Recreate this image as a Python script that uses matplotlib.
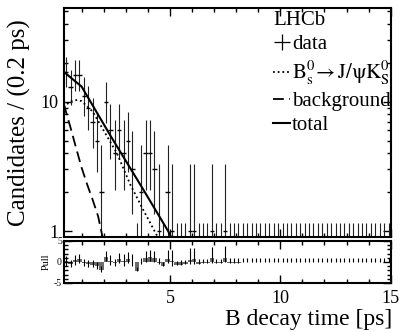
import numpy as np
import matplotlib
matplotlib.use('Agg')
import matplotlib.pyplot as plt
from matplotlib.lines import Line2D
from matplotlib.ticker import FixedLocator, MultipleLocator, NullFormatter

plt.rcParams['font.family'] = ['Liberation Serif', 'DejaVu Serif']
plt.rcParams['mathtext.fontset'] = 'stix'
plt.rcParams['axes.unicode_minus'] = False

# histogram: 0.2 ps bins from 0.2 to 15 ps
t_lo, t_hi, bin_w = 0.2, 15.0, 0.2
counts = [17, 13, 16, 16, 11, 9, 7, 5, 2, 10,
          6, 4, 6, 4, 5, 3, 0, 2, 4, 4,
          3, 1, 0, 2, 1, 0, 0, 0, 1, 1,
          0, 0, 0, 1, 0, 0, 1] + [0] * 37

# pulls
pulls = [0.15, -0.49, 0.40, 0.65, -0.27, -0.41, -0.61, -0.95, -1.97, 1.19,
         0.21, -0.25, 0.74, 0.16, 0.79, 0.06, -2.18, -0.08, 1.07, 1.20,
         0.92, -0.13, -1.00, 0.77, 0.13, -0.68, -0.60, -0.53, 0.57, 0.64,
         -0.36, -0.31, -0.28, 0.87, -0.22, -0.19, 0.98,
         -0.15, -0.13, -0.12, -0.10, -0.09, -0.08, -0.07, -0.06, -0.05, -0.05,
         -0.04, -0.04, -0.03, -0.03, -0.03, -0.02, -0.02, -0.02, -0.02, -0.01,
         -0.01, -0.01, -0.01, -0.01, -0.01, -0.01, -0.01, -0.01, -0.01, -0.01,
         -0.01, -0.01, -0.01, -0.01, -0.01, -0.01, -0.01]

# fit curves
sig_t = [0.2, 0.4, 0.6, 0.8, 1.0, 1.5, 2.1, 2.6, 3.2, 3.8, 4.45]
sig_v = [9.0, 9.8, 10.2, 10.3, 10.1, 8.4, 5.6, 4.0, 2.3, 1.45, 0.9]
bkg_t = [0.2, 0.5, 0.75, 1.0, 1.25, 1.5, 1.75, 1.95]
bkg_v = [9.5, 6.3, 4.4, 3.1, 2.3, 1.75, 1.3, 0.9]
tot_t = [0.2, 0.5, 1.0, 2.27, 3.79, 4.92, 5.05]
tot_v = [17.0, 15.4, 13.1, 5.6, 2.1, 1.0, 0.9]


def pois_cdf(k, lam):
    term = np.exp(-lam)
    s = term
    for i in range(1, k + 1):
        term = term * lam / i
        s += term
    return s


def garwood(n):
    # central 68.3% poisson interval, one sided for n=0 (as RooFit)
    if n == 0:
        return 0.0, -np.log(1 - 0.6827)
    a = (1 - 0.6827) / 2
    lo, hi = float(n), n + 10 * np.sqrt(n) + 10
    for _ in range(60):
        mid = (lo + hi) / 2
        if pois_cdf(n, mid) > a:
            lo = mid
        else:
            hi = mid
    up = (lo + hi) / 2
    lo, hi = 0.0, float(n)
    for _ in range(60):
        mid = (lo + hi) / 2
        if pois_cdf(n - 1, mid) > 1 - a:
            lo = mid
        else:
            hi = mid
    return n - (lo + hi) / 2, up - n


counts = np.array(counts, dtype=float)
pulls = np.array(pulls)
centers = np.arange(t_lo + bin_w / 2, t_hi, bin_w)[:len(counts)]
errs = np.array([garwood(int(n)) for n in counts])
elo, ehi = errs[:, 0], errs[:, 1]

fig = plt.figure(figsize=(4.02, 3.32), dpi=100)
ax = fig.add_axes([0.159, 0.286, 0.813, 0.690])
ax2 = fig.add_axes([0.159, 0.1476, 0.813, 0.1265])

# data
ax.vlines(centers, np.maximum(counts - elo, 1e-3), counts + ehi, color='#222222', lw=0.8)
nz = counts > 0
ax.hlines(counts[nz], centers[nz] - bin_w / 2, centers[nz] + bin_w / 2, color='k', lw=1.0)

ax.plot(sig_t, sig_v, color='k', ls=(0, (1, 1.6)), lw=1.3)
ax.plot(bkg_t, bkg_v, color='k', ls=(0, (6, 3)), lw=1.3)
ax.plot(tot_t, tot_v, color='k', lw=1.5)

ax.set_yscale('log')
ax.set_xlim(t_lo, t_hi)
ax.set_ylim(0.9, 53)
ax.yaxis.set_major_locator(FixedLocator([1, 10]))
ax.yaxis.set_minor_locator(FixedLocator([2, 3, 4, 5, 6, 7, 8, 9, 20, 30, 40, 50]))
ax.set_yticklabels(['1', '10'])
ax.yaxis.set_minor_formatter(NullFormatter())
ax.xaxis.set_major_locator(FixedLocator([5, 10, 15]))
ax.xaxis.set_minor_locator(MultipleLocator(1))
ax.set_xticklabels([])
ax.set_ylabel('Candidates / (0.2 ps)', fontsize=18)
ax.yaxis.set_label_coords(-0.10, 0.5)

handles = [Line2D([], [], color='k', marker='+', ms=12, mew=0.9, ls='none'),
           Line2D([], [], color='k', ls=(0, (1, 1.6)), lw=1.3),
           Line2D([], [], color='k', ls=(0, (6, 3)), lw=1.3),
           Line2D([], [], color='k', lw=1.5)]
labels = ['data', r'$\mathrm{B^0_s\!\rightarrow J/ψK^0_S}$', 'background', 'total']
leg = ax.legend(handles, labels, title='LHCb', loc='upper right',
                bbox_to_anchor=(1.045, 1.05), frameon=False, fontsize=15,
                title_fontsize=15, handlelength=0.8, handletextpad=0.1,
                labelspacing=0.22, alignment='left', borderpad=0.2)

# pull panel
ax2.bar(centers, pulls, width=bin_w, color='#6a6a6a', lw=0)
scale = np.where(pulls > 0, elo, ehi)
scale = np.where(scale > 0, scale, 1.0)
ax2.vlines(centers, pulls - elo / scale, pulls + ehi / scale, color='k', lw=0.8)
ax2.set_xlim(t_lo, t_hi)
ax2.set_ylim(-5, 5)
ax2.yaxis.set_major_locator(FixedLocator([-5, 0, 5]))
ax2.yaxis.set_minor_locator(MultipleLocator(1))
ax2.xaxis.set_major_locator(FixedLocator([5, 10, 15]))
ax2.xaxis.set_minor_locator(MultipleLocator(1))
ax2.tick_params(axis='y', labelsize=7, pad=1.5)
ax2.tick_params(axis='x', labelsize=13, pad=5)
ax2.set_ylabel('Pull', fontsize=7.5)
ax2.yaxis.set_label_coords(-0.04, 0.5)
ax2.set_xlabel('B decay time [ps]', fontsize=17, ha='right')
ax2.xaxis.set_label_coords(1.005, -0.62)

for a in (ax, ax2):
    for s in a.spines.values():
        s.set_linewidth(1.5)
    a.tick_params(which='both', direction='in', top=True, right=True, width=1.0)
    a.tick_params(which='major', length=6)
    a.tick_params(which='minor', length=3)
ax.tick_params(axis='y', labelsize=13, pad=4)

fig.savefig('out.png', dpi=100)
